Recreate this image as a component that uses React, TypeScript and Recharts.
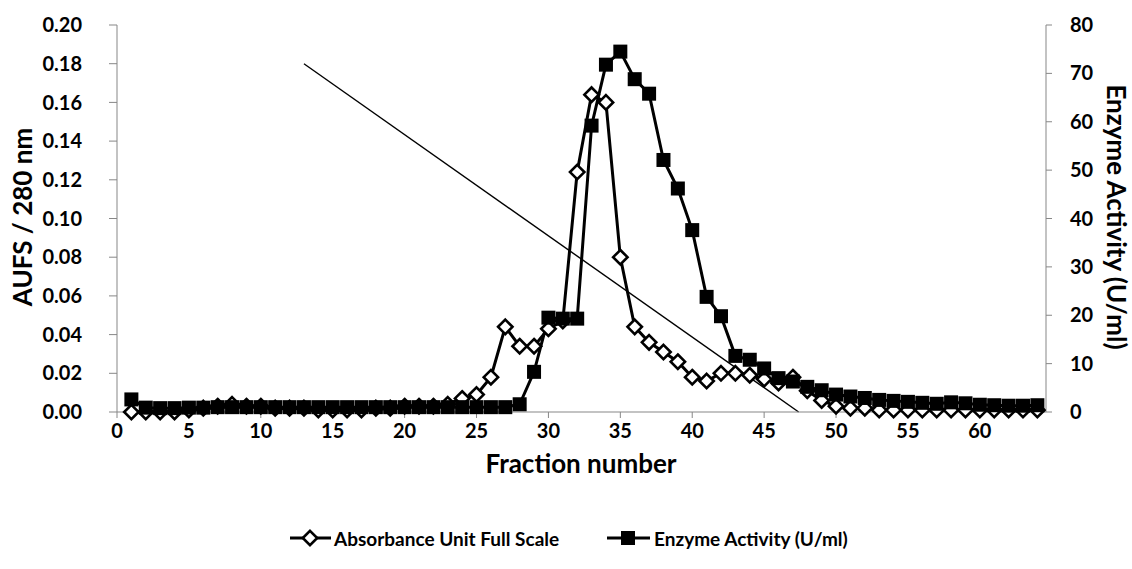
import React from 'react';
import { ComposedChart, Line, XAxis, YAxis } from 'recharts';

const fractions = [1,2,3,4,5,6,7,8,9,10,11,12,13,14,15,16,17,18,19,20,21,22,23,24,25,26,27,28,29,30,31,32,33,34,35,36,37,38,39,40,41,42,43,44,45,46,47,48,49,50,51,52,53,54,55,56,57,58,59,60,61,62,63,64];

const absorbance = [
  0.000,0.000,0.000,0.000,0.001,0.002,0.003,0.004,0.003,0.003,
  0.002,0.002,0.002,0.001,0.001,0.001,0.001,0.002,0.002,0.003,
  0.003,0.003,0.004,0.007,0.009,0.018,0.044,0.034,0.034,0.043,
  0.047,0.124,0.164,0.160,0.080,0.044,0.036,0.031,0.026,0.018,
  0.016,0.020,0.020,0.019,0.017,0.015,0.018,0.011,0.006,0.003,
  0.002,0.002,0.001,0.001,0.001,0.001,0.001,0.001,0.001,0.001,
  0.001,0.001,0.001,0.001
];

const enzyme = [
  2.6,0.9,0.8,0.8,0.9,0.9,1.0,1.0,1.0,1.0,
  1.0,1.0,1.0,1.0,1.0,1.0,1.0,1.0,1.0,1.0,
  1.0,1.0,1.0,1.0,1.0,1.0,1.0,1.6,8.3,19.5,
  19.3,19.3,59.2,71.8,74.5,68.8,65.8,52.1,46.2,37.6,
  23.8,19.8,11.6,10.8,9.0,7.0,6.3,5.2,4.5,3.6,
  3.2,2.9,2.5,2.3,2.1,1.9,1.7,2.0,1.8,1.5,
  1.4,1.3,1.3,1.4
];

const gradientFractions = [13, 47.4];
const gradientValues = [0.18, 0.0];

const xTicks = [0,5,10,15,20,25,30,35,40,45,50,55,60];
const leftTicks = [0,0.02,0.04,0.06,0.08,0.10,0.12,0.14,0.16,0.18,0.20];
const rightTicks = [0,10,20,30,40,50,60,70,80];

const rows = fractions.map((f, i) => ({ fraction: f, aufs: absorbance[i], enzyme: enzyme[i] }));
const gradientRows = gradientFractions.map((f, i) => ({ fraction: f, gradient: gradientValues[i] }));

const FONT = 'Lato, "Open Sans", sans-serif';
const AXIS = '#878787';

const DiamondDot = (props: any) => {
  const { cx, cy } = props;
  if (cx == null || cy == null) return null;
  const r = 7.2;
  return <path d={`M${cx},${cy - r}L${cx + r},${cy}L${cx},${cy + r}L${cx - r},${cy}Z`} fill="#fff" stroke="#000" strokeWidth={2.6} />;
};

const SquareDot = (props: any) => {
  const { cx, cy } = props;
  if (cx == null || cy == null) return null;
  const s = 14;
  return <rect x={cx - s / 2} y={cy - s / 2} width={s} height={s} fill="#000" />;
};

const tickStyle = { fontFamily: FONT, fontWeight: 700, fontSize: 20, fill: '#000' };
const titleStyle = { fontFamily: FONT, fontWeight: 700, fontSize: 26 };
const legendStyle = { fontFamily: FONT, fontWeight: 700, fontSize: 19 };

const LegendRow = () => (
  <div style={{ position: 'absolute', left: 0, top: 523, width: 1132, height: 30 }}>
    <svg width={1132} height={30} style={{ position: 'absolute', left: 0, top: 0 }}>
      <line x1={290} y1={15} x2={331} y2={15} stroke="#000" strokeWidth={3} />
      <DiamondDot cx={310} cy={15} />
      <text x={334} y={15} dominantBaseline="central" style={legendStyle}>Absorbance Unit Full Scale</text>
      <line x1={607} y1={15} x2={650} y2={15} stroke="#000" strokeWidth={3} />
      <SquareDot cx={628} cy={15} />
      <text x={654} y={15} dominantBaseline="central" style={legendStyle}>Enzyme Activity (U/ml)</text>
    </svg>
  </div>
);

export default function App() {
  return (
    <div style={{ position: 'absolute', left: 0, top: 0, width: 1132, height: 569, background: '#fff' }}>
      <ComposedChart width={1132} height={569} data={rows} margin={{ top: 25, right: 0, bottom: 97, left: 0 }}>
        <XAxis
          dataKey="fraction"
          type="number"
          domain={[0, 64.6]}
          ticks={xTicks}
          allowDataOverflow
          interval={0}
          height={60}
          stroke={AXIS}
          tickSize={6}
          tickLine={{ stroke: AXIS }}
          tick={tickStyle}
          tickMargin={6}
          label={() => (
            <text x={581} y={463} textAnchor="middle" dominantBaseline="central" style={titleStyle}>Fraction number</text>
          )}
        />
        <YAxis
          yAxisId="left"
          orientation="left"
          domain={[0, 0.2]}
          ticks={leftTicks}
          width={117}
          stroke={AXIS}
          tickSize={8}
          tickMargin={27}
          tick={tickStyle}
          tickFormatter={(v: number) => v.toFixed(2)}
          label={() => (
            <text x={22} y={217} transform="rotate(-90 22 217)" textAnchor="middle" dominantBaseline="central" style={titleStyle}>AUFS / 280 nm</text>
          )}
        />
        <YAxis
          yAxisId="right"
          orientation="right"
          domain={[0, 80]}
          ticks={rightTicks}
          width={86}
          stroke={AXIS}
          tickSize={6}
          tickMargin={18}
          tick={{ ...tickStyle, textAnchor: 'start' }}
          label={() => (
            <text x={1117} y={217} transform="rotate(90 1117 217)" textAnchor="middle" dominantBaseline="central" style={titleStyle}>Enzyme Activity (U/ml)</text>
          )}
        />
        <Line
          yAxisId="left"
          data={gradientRows}
          dataKey="gradient"
          type="linear"
          stroke="#000"
          strokeWidth={1.4}
          dot={false}
          isAnimationActive={false}
        />
        <Line
          yAxisId="left"
          dataKey="aufs"
          type="linear"
          stroke="#000"
          strokeWidth={3}
          dot={<DiamondDot />}
          isAnimationActive={false}
        />
        <Line
          yAxisId="right"
          dataKey="enzyme"
          type="linear"
          stroke="#000"
          strokeWidth={3}
          dot={<SquareDot />}
          isAnimationActive={false}
        />
      </ComposedChart>
      <LegendRow />
    </div>
  );
}
